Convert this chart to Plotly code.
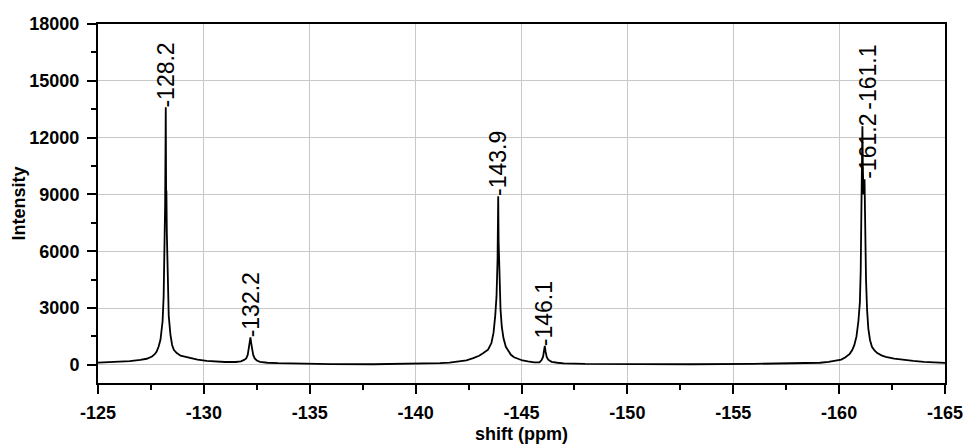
import numpy as np
import plotly.graph_objects as go

# 19F NMR spectrum, chemical shift (ppm) vs intensity
shift_ppm = [
    -125.0, -125.5, -126.0, -126.5, -127.0, -127.3, -127.55, -127.68, -127.77,
    -127.86, -127.95, -128.01, -128.05, -128.10, -128.14, -128.17, -128.19, -128.20,
    -128.21, -128.22, -128.23, -128.25, -128.29, -128.34, -128.42, -128.50, -128.58,
    -128.72, -128.9, -129.1, -129.34, -129.7, -130.13, -130.6, -131.0, -131.5,
    -131.75, -131.9, -132.0, -132.07, -132.12, -132.16, -132.2, -132.24, -132.28,
    -132.33, -132.4, -132.5, -132.65, -133.0, -133.5, -134.0, -135.0, -136.0,
    -138.0, -140.0, -140.7, -141.15, -141.6, -142.0, -142.4, -142.72, -143.0,
    -143.2, -143.42, -143.58, -143.68, -143.76, -143.82, -143.87, -143.90, -143.92,
    -143.94, -143.97, -144.01, -144.07, -144.15, -144.26, -144.38, -144.5, -144.65,
    -144.85, -145.05, -145.3, -145.6, -145.85, -145.95, -146.02, -146.06, -146.1,
    -146.14, -146.19, -146.26, -146.42, -146.7, -147.0, -148.0, -150.0, -153.0,
    -156.0, -158.0, -158.7, -159.1, -159.5, -159.8, -160.1, -160.3, -160.5,
    -160.62, -160.72, -160.82, -160.91, -160.98, -161.02, -161.05, -161.08, -161.10,
    -161.12, -161.15, -161.20, -161.23, -161.27, -161.32, -161.38, -161.46, -161.55,
    -161.67, -161.8, -162.0, -162.2, -162.6, -163.03, -163.5, -164.0, -164.5,
    -165.0,
]
intensity = [
    120, 135, 160, 200, 260, 320, 440, 560, 700,
    950, 1320, 1800, 2300, 3600, 5600, 8400, 11800, 13600,
    11000, 8400, 9200, 7000, 4200, 2600, 1600, 1050, 790,
    620, 480, 420, 370, 280, 210, 170, 150, 150,
    180, 260, 340, 520, 850, 1150, 1450, 1100, 760,
    520, 340, 230, 160, 110, 85, 70, 50, 40,
    30, 50, 70, 90, 120, 170, 240, 350, 480,
    620, 800, 1150, 1700, 2600, 3600, 5600, 8900, 6500,
    5600, 4000, 2900, 2000, 1400, 950, 700, 530, 400,
    300, 230, 180, 130, 130, 250, 430, 700, 1000,
    680, 420, 270, 160, 110, 80, 50, 30, 30,
    50, 80, 95, 110, 150, 200, 280, 400, 580,
    780, 1050, 1500, 2300, 3300, 5000, 8000, 11000, 12600,
    10500, 9000, 9800, 7000, 4500, 2900, 1900, 1300, 950,
    760, 620, 500, 420, 330, 260, 210, 160, 130,
    100,
]

# Peak annotations
peak_labels = ["-128.2", "-132.2", "-143.9", "-146.1", "-161.2", "-161.1"]
peak_shift = [-128.2, -132.2, -143.9, -146.1, -161.2, -161.1]
peak_height = [13600, 1450, 8900, 1000, 9800, 12600]
label_dx = [0, 0, 0, 0, 3.5, 5.6]
label_dy = [-2, -2, -2, -2, -2, 14]

# Axis ticks
x_ticks = [-125, -130, -135, -140, -145, -150, -155, -160, -165]
x_ticktext = ["-125", "-130", "-135", "-140", "-145", "-150", "-155", "-160", "-165"]
y_ticks = [0, 3000, 6000, 9000, 12000, 15000, 18000]
y_ticktext = ["0", "3000", "6000", "9000", "12000", "15000", "18000"]

x_minor = list(np.arange(-127.5, -165, -5.0))
y_minor = list(np.arange(1500, 18000, 3000))

font_main = "Liberation Sans, Arial, sans-serif"
title_font = dict(family=font_main, size=18, color="black", weight="bold")

fig = go.Figure()
fig.add_trace(go.Scatter(
    x=shift_ppm, y=intensity, mode="lines",
    line=dict(color="black", width=1.8),
    hoverinfo="x+y", showlegend=False,
))

for lab, xv, yv, dx, dy in zip(peak_labels, peak_shift, peak_height, label_dx, label_dy):
    fig.add_annotation(
        x=xv, y=yv, text=lab, showarrow=False, textangle=-90,
        xanchor="center", yanchor="bottom", xshift=dx, yshift=dy,
        font=dict(family=font_main, size=23, color="black"),
    )

# Axis titles
fig.add_annotation(
    x=0.5, y=0, xref="paper", yref="paper", yshift=-51,
    text="shift (ppm)", showarrow=False, xanchor="center", yanchor="middle",
    font=title_font,
)
fig.add_annotation(
    x=0, y=0.5, xref="paper", yref="paper", xshift=-80,
    text="Intensity", showarrow=False, textangle=-90,
    xanchor="center", yanchor="middle", font=title_font,
)

fig.update_layout(
    width=966, height=445,
    margin=dict(l=98, r=21, t=24, b=62),
    plot_bgcolor="white", paper_bgcolor="white",
    showlegend=False,
)

fig.update_xaxes(
    range=[-125, -165], automargin=False,
    tickmode="array", tickvals=x_ticks, ticktext=x_ticktext,
    ticks="outside", ticklen=9, tickwidth=2, tickcolor="black",
    showline=True, linecolor="black", linewidth=2, mirror=True,
    showgrid=True, gridcolor="#c8c8c8", gridwidth=1,
    zeroline=False,
    minor=dict(tickmode="array", tickvals=x_minor, ticks="outside", ticklen=5,
               tickwidth=2, tickcolor="black", showgrid=False),
    tickfont=dict(family=font_main, size=18, color="black", weight="bold"),
    ticklabelstandoff=3,
)

fig.update_yaxes(
    range=[-960, 18000], automargin=False,
    tickmode="array", tickvals=y_ticks, ticktext=y_ticktext,
    ticks="outside", ticklen=9, tickwidth=2, tickcolor="black",
    showline=True, linecolor="black", linewidth=2, mirror=True,
    showgrid=True, gridcolor="#c8c8c8", gridwidth=1,
    zeroline=False,
    minor=dict(tickmode="array", tickvals=y_minor, ticks="outside", ticklen=5,
               tickwidth=2, tickcolor="black", showgrid=False),
    tickfont=dict(family=font_main, size=18, color="black", weight="bold"),
    ticklabelstandoff=4,
)

fig.write_html("out.html")
